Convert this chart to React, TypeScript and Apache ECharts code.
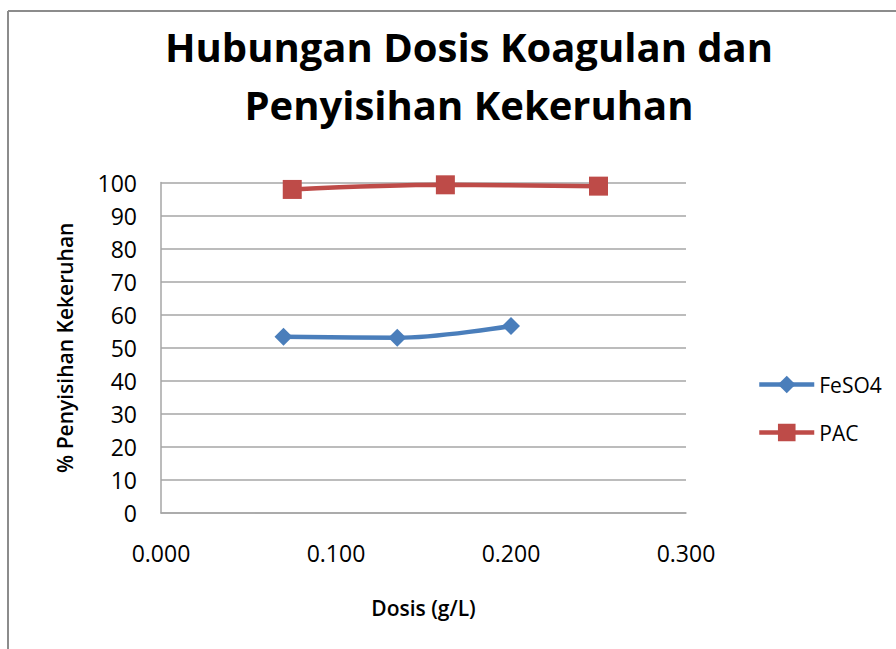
import React, { useEffect, useRef } from "react";
import * as echarts from "echarts";

const titleLines = ["Hubungan Dosis Koagulan dan", "Penyisihan Kekeruhan"];
const xAxisName = "Dosis (g/L)";
const yAxisName = "% Penyisihan Kekeruhan";
const seriesNames = ["FeSO4", "PAC"];
const feso4Dose = [0.07, 0.135, 0.2];
const feso4Removal = [53.3, 53.0, 56.6];
const pacDose = [0.075, 0.1625, 0.25];
const pacRemoval = [97.9, 99.3, 98.9];

const FONT = "'Open Sans', sans-serif";

export default function App() {
  const ref = useRef<HTMLDivElement>(null);
  useEffect(() => {
    if (!ref.current) return;
    const chart = echarts.init(ref.current, undefined, { renderer: "svg" });
    const gridColor = "#a6a6a6";
    chart.setOption({
      animation: false,
      backgroundColor: "#ffffff",
      textStyle: { fontFamily: FONT },
      graphic: [
        { type: "line", shape: { x1: 8, y1: 11, x2: 896, y2: 11 }, style: { stroke: "#8c8c8c", lineWidth: 2 } },
        { type: "line", shape: { x1: 8, y1: 11, x2: 8, y2: 649 }, style: { stroke: "#8c8c8c", lineWidth: 2 } },
        {
          type: "text", x: 469, y: 46,
          style: { text: titleLines[0], fontFamily: FONT, fontSize: 40, fontWeight: "bold", fill: "#000", align: "center", verticalAlign: "middle" },
        },
        {
          type: "text", x: 469, y: 104,
          style: { text: titleLines[1], fontFamily: FONT, fontSize: 40, fontWeight: "bold", fill: "#000", align: "center", verticalAlign: "middle" },
        },
      ],
      grid: { left: 161, right: 210, top: 182.5, bottom: 136, containLabel: false },
      legend: {
        orient: "vertical",
        left: 752,
        top: 369,
        itemWidth: 55,
        itemHeight: 22,
        itemGap: 27,
        data: seriesNames,
        lineStyle: { width: 4.5 },
        textStyle: { fontFamily: FONT, fontSize: 21, color: "#000" },
      },
      xAxis: {
        type: "value",
        min: 0,
        max: 0.3,
        interval: 0.1,
        name: xAxisName,
        nameLocation: "middle",
        nameGap: 84,
        nameTextStyle: { fontFamily: FONT, fontSize: 21, fontWeight: 600, color: "#000", verticalAlign: "top" },
        axisLine: { show: true, lineStyle: { color: gridColor, width: 1.5 } },
        axisTick: { show: false },
        splitLine: { show: false },
        axisLabel: {
          formatter: (v: number) => v.toFixed(3),
          fontFamily: FONT, fontSize: 23, color: "#000", margin: 28,
        },
      },
      yAxis: {
        type: "value",
        min: 0,
        max: 100,
        interval: 10,
        name: yAxisName,
        nameLocation: "middle",
        nameGap: 86,
        nameTextStyle: { fontFamily: FONT, fontSize: 21, fontWeight: 600, color: "#000" },
        axisLine: { show: true, lineStyle: { color: gridColor, width: 1.5 } },
        axisTick: { show: false },
        splitLine: { show: true, lineStyle: { color: gridColor, width: 1.5 } },
        axisLabel: { fontFamily: FONT, fontSize: 23, color: "#000", margin: 24 },
      },
      series: [
        {
          name: seriesNames[0],
          type: "line",
          smooth: 0.35,
          data: feso4Dose.map((d, i) => [d, feso4Removal[i]]),
          symbol: "diamond",
          symbolSize: 18,
          lineStyle: { color: "#4a7ebb", width: 4.5 },
          itemStyle: { color: "#4a7ebb" },
        },
        {
          name: seriesNames[1],
          type: "line",
          smooth: 0.35,
          data: pacDose.map((d, i) => [d, pacRemoval[i]]),
          symbol: "rect",
          symbolSize: 19,
          lineStyle: { color: "#be4b48", width: 4.5 },
          itemStyle: { color: "#be4b48" },
        },
      ],
    });
    return () => chart.dispose();
  }, []);
  return <div ref={ref} style={{ position: "absolute", left: 0, top: 0, width: 896, height: 649 }} />;
}
